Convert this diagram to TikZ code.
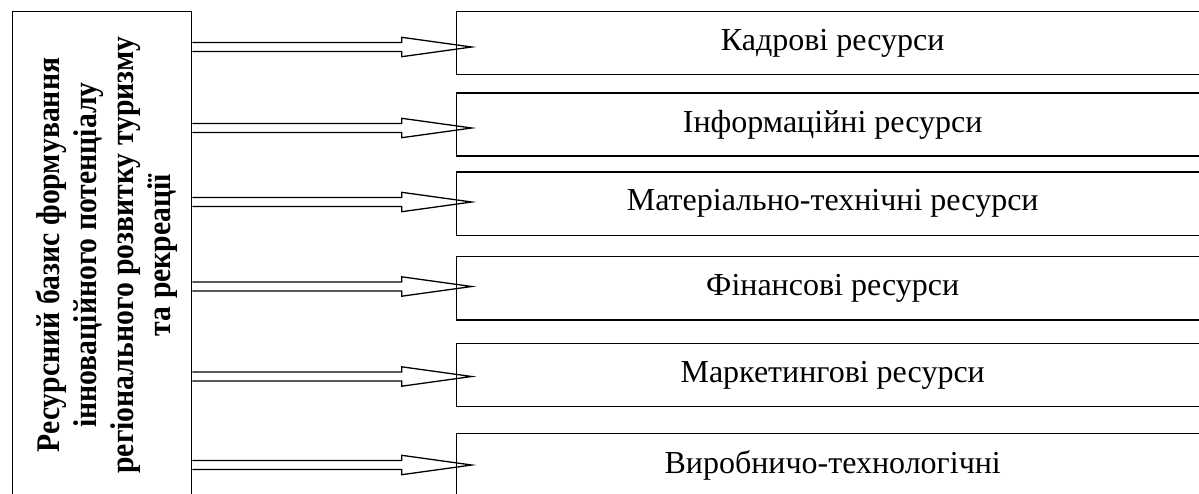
\documentclass[tikz,border=0pt]{standalone}
\usepackage{fontspec}
\setmainfont{Liberation Serif}
\newfontfamily\leftfont[FakeStretch=0.9]{Liberation Serif}
\usetikzlibrary{calc}
\tikzset{
  resbox/.style={draw, line width=1.4pt, minimum width=752pt, minimum height=63.3pt,
    anchor=west, inner sep=0pt, font=\fontsize{32}{38}\selectfont},
  leftbox/.style={draw, line width=1.4pt, minimum width=179pt, minimum height=600pt,
    anchor=north west, inner sep=0pt},
  lefttext/.style={rotate=90, align=center, inner sep=0pt,
    font=\leftfont\fontsize{33}{37}\selectfont\bfseries},
  hollow/.style={line width=1.3pt, line join=miter}
}
\newcommand{\hollowarrow}[2]{%
  \draw[hollow] let \p1=(#2), \p2=(#1.east |- #2) in
    (\x2,\y2+4.5) -- (\x1-70,\y1+4.5) -- (\x1-70,\y1+9.7) -- (\p1)
    -- (\x1-70,\y1-9.7) -- (\x1-70,\y1-4.5) -- (\x2,\y2-4.5);}
\begin{document}
\begin{tikzpicture}[x=1pt,y=-1pt]
\useasboundingbox (0,0) rectangle (1199,493);
\begin{scope}
\clip (0,0) rectangle (1199,493);
\node[leftbox] (L) at (12,11) {};
\node[lefttext] (T) at (107,255) {Ресурсний базис формування\\інноваційного потенціалу\\регіонального розвитку туризму\\та рекреації};
\node[resbox] (B1) at (456,43) {Кадрові ресурси};
\node[resbox] (B2) at (456,124.5) {Інформаційні ресурси};
\node[resbox] (B3) at (456,203.8) {Матеріально-технічні ресурси};
\node[resbox] (B4) at (456,288.3) {Фінансові ресурси};
\node[resbox] (B5) at (456,375) {Маркетингові ресурси};
\node[resbox] (B6) at (456,465) {Виробничо-технологічні};
\coordinate (t1) at ($(B1.west)+(15.7,4)$);
\coordinate (t2) at ($(B2.west)+(15.7,3.5)$);
\coordinate (t3) at ($(B3.west)+(15.7,-1.8)$);
\coordinate (t4) at ($(B4.west)+(15.7,-1.8)$);
\coordinate (t5) at ($(B5.west)+(15.7,1.5)$);
\coordinate (t6) at ($(B6.west)+(15.7,0)$);
\foreach \i in {1,...,6}{\hollowarrow{L}{t\i}}
\end{scope}
\end{tikzpicture}
\end{document}
